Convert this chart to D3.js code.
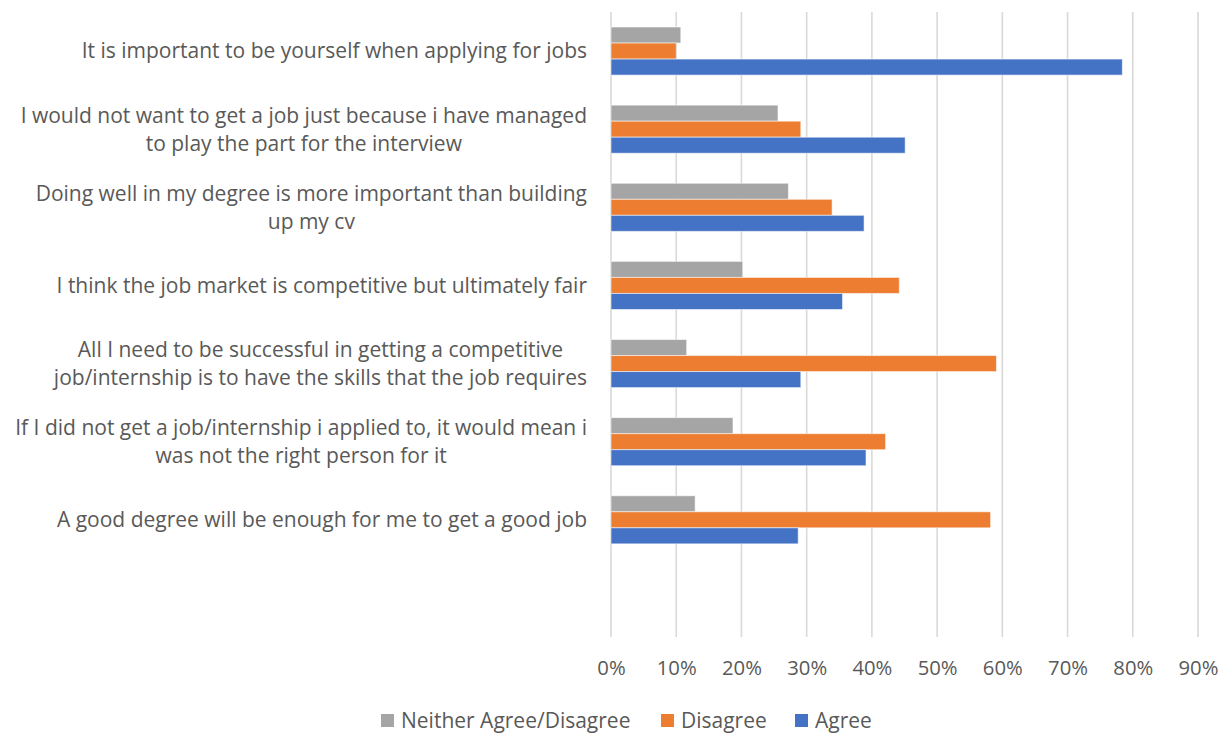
<!DOCTYPE html>
<html>
<head>
<meta charset="utf-8">
<script src="https://cdn.jsdelivr.net/npm/d3@7"></script>
<style>
  html, body { margin: 0; padding: 0; background: #fff; }
  svg { display: block; }
  text { font-family: "Open Sans", sans-serif; fill: #595959; }
</style>
</head>
<body>
<svg id="chart" width="1229" height="734"></svg>
<script>
// Survey statements, top to bottom ("\n" marks where a label wraps)
const statements = [
  "It is important to be yourself when applying for jobs",
  "I would not want to get a job just because i have managed\nto play the part for the interview",
  "Doing well in my degree is more important than building\nup my cv",
  "I think the job market is competitive but ultimately fair",
  "All I need to be successful in getting a competitive\njob/internship is to have the skills that the job requires",
  "If I did not get a job/internship i applied to, it would mean i\nwas not the right person for it",
  "A good degree will be enough for me to get a good job"
];

const seriesNames = ["Neither Agree/Disagree", "Disagree", "Agree"];
const seriesColors = ["#A5A5A5", "#ED7D31", "#4472C4"];

// Share of respondents (%) per statement
const neitherValues  = [10.7, 25.6, 27.2, 20.2, 11.6, 18.7, 12.9];
const disagreeValues = [10.0, 29.1, 33.9, 44.2, 59.1, 42.1, 58.2];
const agreeValues    = [78.4, 45.1, 38.8, 35.5, 29.1, 39.1, 28.7];

const tickValues = [0, 10, 20, 30, 40, 50, 60, 70, 80, 90];

const seriesValues = [neitherValues, disagreeValues, agreeValues];

const svg = d3.select("#chart");
const plot = { left: 611, right: 1198, top: 12, bottom: 637 };

const x = d3.scaleLinear().domain([0, 90]).range([plot.left, plot.right]);

// An empty trailing slot leaves blank room at the foot of the plot
const slots = statements.map((_, i) => "s" + i).concat(["blank"]);
const y = d3.scaleBand().domain(slots).range([plot.top, plot.bottom]).paddingInner(0).paddingOuter(0);
const inner = d3.scaleBand().domain(seriesNames).range([0, y.bandwidth()]).paddingOuter(0.9375).paddingInner(0);

// Vertical gridlines
svg.append("g")
  .selectAll("line")
  .data(tickValues)
  .join("line")
  .attr("x1", d => x(d)).attr("x2", d => x(d))
  .attr("y1", plot.top).attr("y2", plot.bottom)
  .attr("stroke", "#D9D9D9")
  .attr("stroke-width", 1.6);

// Bars
const rows = statements.map((s, i) => ({
  key: "s" + i,
  values: seriesNames.map((name, k) => ({ name, color: seriesColors[k], value: seriesValues[k][i] }))
}));

const groups = svg.append("g")
  .selectAll("g")
  .data(rows)
  .join("g")
  .attr("transform", d => `translate(0,${y(d.key)})`);

groups.selectAll("rect")
  .data(d => d.values)
  .join("rect")
  .attr("x", x(0))
  .attr("y", d => inner(d.name))
  .attr("width", d => x(d.value) - x(0))
  .attr("height", inner.bandwidth())
  .attr("fill", d => d.color)
  .attr("stroke", "#ffffff")
  .attr("stroke-opacity", 0.55)
  .attr("stroke-width", 1);

// Category labels: each block's widest line ends at the right edge, lines centred within the block
const labelRight = 587;
const lineHeight = 28;
const labelSize = 21;
const tickSize = 20.3;
statements.forEach((s, i) => {
  const lines = s.split("\n");
  const g = svg.append("g");
  const cy = y("s" + i) + y.bandwidth() / 2;
  const texts = lines.map((ln, j) => g.append("text")
    .attr("y", cy + (j - (lines.length - 1) / 2) * lineHeight)
    .attr("dy", "0.35em")
    .attr("text-anchor", "middle")
    .style("font-size", labelSize + "px")
    .text(ln));
  const maxW = d3.max(texts, t => t.node().getComputedTextLength());
  texts.forEach(t => t.attr("x", labelRight - maxW / 2));
});

// X axis tick labels
const xAxis = d3.axisBottom(x)
  .tickValues(tickValues)
  .tickFormat(d => d + "%")
  .tickSize(0)
  .tickPadding(0);
const axisG = svg.append("g")
  .attr("transform", `translate(0,668)`)
  .call(xAxis);
axisG.select(".domain").remove();
axisG.selectAll("text")
  .attr("dy", "0.35em")
  .attr("font-family", null)
  .style("font-size", tickSize + "px")
  .style("fill", "#595959");

// Legend
const legendItems = [
  { name: seriesNames[0], color: seriesColors[0], x: 381 },
  { name: seriesNames[1], color: seriesColors[1], x: 661 },
  { name: seriesNames[2], color: seriesColors[2], x: 795 }
];
const legend = svg.append("g").attr("transform", "translate(0,721)");
legendItems.forEach(item => {
  legend.append("rect")
    .attr("x", item.x).attr("y", -7)
    .attr("width", 13).attr("height", 13)
    .attr("fill", item.color);
  legend.append("text")
    .attr("x", item.x + 20).attr("y", 0)
    .attr("dy", "0.35em")
    .style("font-size", labelSize + "px")
    .text(item.name);
});
</script>
</body>
</html>
